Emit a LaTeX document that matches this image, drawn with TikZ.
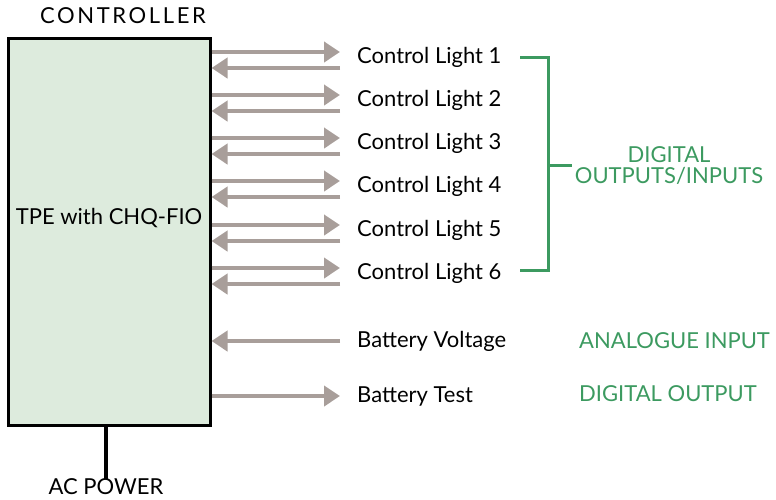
\documentclass[tikz,border=0pt]{standalone}
\usepackage{fontspec}
\setmainfont{Lato}
\usetikzlibrary{arrows.meta}
\definecolor{boxfill}{HTML}{DDEBDD}
\definecolor{arrgray}{HTML}{A89E9A}
\definecolor{grn}{HTML}{3C9A60}
\tikzset{
  arr/.style={draw=arrgray, line width=4.5pt, -{Triangle[length=16pt,width=20pt]}},
  lbl/.style={anchor=west, inner sep=0pt, font=\fontsize{22}{25}\selectfont},
  glbl/.style={inner sep=0pt, text=grn, font=\fontsize{22}{21}\selectfont, align=center},
  blk/.style={inner sep=0pt, font=\fontsize{22}{25}\selectfont},
}
\begin{document}
\begin{tikzpicture}[x=1pt,y=-1pt]
\useasboundingbox (0,0) rectangle (776,499);
\node[draw=black, line width=3pt, fill=boxfill, minimum width=202pt, minimum height=387pt, inner sep=0pt] (ctrl) at (109,231.5) {};
\node[blk] (tpe) at (109,218) {TPE with CHQ-FIO};
\node[blk, font=\fontsize{22}{25}\selectfont\addfontfeature{LetterSpace=12}] (title) at (123,16) {CONTROLLER};
\node[blk] (ac) at (106,487) {AC POWER};
\draw[line width=4pt] (ctrl.south -| ac) -- (ac.north);
% control lights
\foreach \i/\yr/\yl in {1/52/68, 2/95/111, 3/138/154, 4/181/197, 5/225/241, 6/268/284}{
  \coordinate (r\i) at (340,\yr);
  \coordinate (l\i) at (340,\yl);
  \node[lbl] (cl\i) at (357,{(\yr+\yl)/2-3}) {Control Light \i};
  \draw[arr] (ctrl.east |- r\i) -- (r\i);
  \draw[arr] (l\i) -- (ctrl.east |- l\i);
}
\coordinate (bv) at (340,341);
\node[lbl] (bvl) at (357,341) {Battery Voltage};
\draw[arr] (bv) -- (ctrl.east |- bv);
\coordinate (bt) at (340,396);
\node[lbl] (btl) at (357,396) {Battery Test};
\draw[arr] (ctrl.east |- bt) -- (bt);
% bracket
\coordinate (bt1) at (520,57);
\coordinate (bb1) at (520,270);
\coordinate (bm) at (548,165);
\node[glbl] (dig) at (669,166) {DIGITAL\\OUTPUTS/INPUTS};
\draw[grn, line width=3pt] (bt1) -- (bt1 -| bm) -- (bb1 -| bm) -- (bb1);
\draw[grn, line width=3pt] (bm) -- (572,165);
\node[glbl, anchor=west] (ai) at (579,341) {ANALOGUE INPUT};
\node[glbl, anchor=west] (do) at (579,394) {DIGITAL OUTPUT};
\end{tikzpicture}
\end{document}
